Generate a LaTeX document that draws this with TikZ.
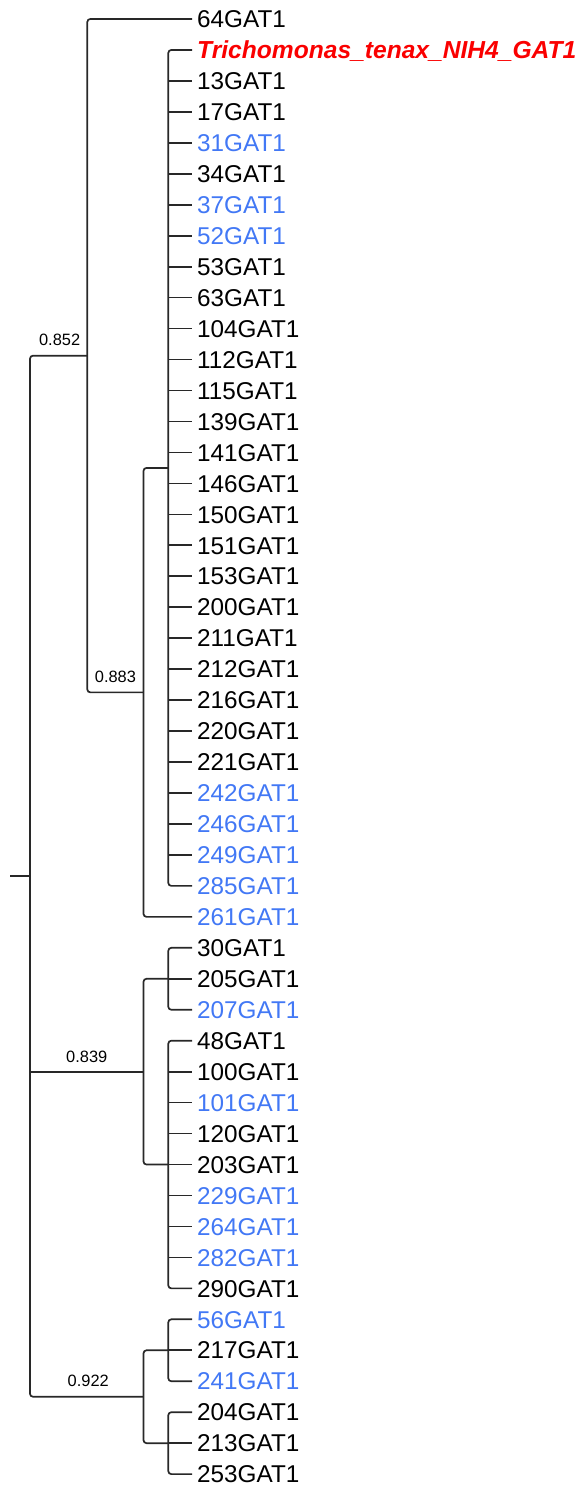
\documentclass[tikz,border=0pt]{standalone}
\usepackage{fontspec}
\setmainfont{Liberation Sans}
\usetikzlibrary{calc}
\definecolor{tipblue}{RGB}{66,120,245}
\definecolor{tipred}{RGB}{250,0,0}
\definecolor{edge}{RGB}{40,40,40}
\tikzset{
  branch/.style={draw=edge, line width=1.7pt, rounded corners=3pt},
  leaf/.style={anchor=west, inner xsep=5pt, inner ysep=0pt, text height=17.4pt, text depth=0pt,
    font=\fontsize{24.3}{28}\selectfont},
  hl/.style={leaf, text=tipblue},
  ref/.style={leaf, text=tipred, font=\fontsize{24.6}{28}\selectfont\bfseries\itshape},
  support/.style={anchor=base, inner sep=0pt, font=\fontsize{16.4}{19}\selectfont}
}
\newcommand{\ly}[1]{{19+(#1-1)*30.96}}
\begin{document}
\begin{tikzpicture}[x=1pt, y=-1pt]
\useasboundingbox (0,0) rectangle (580,1490);
% tips
\node[leaf] (l1)  at (192,\ly{1})  {64GAT1};
\node[ref]  (l2)  at (192,\ly{2})  {Trichomonas\_tenax\_NIH4\_GAT1};
\node[leaf] (l3)  at (192,\ly{3})  {13GAT1};
\node[leaf] (l4)  at (192,\ly{4})  {17GAT1};
\node[hl]   (l5)  at (192,\ly{5})  {31GAT1};
\node[leaf] (l6)  at (192,\ly{6})  {34GAT1};
\node[hl]   (l7)  at (192,\ly{7})  {37GAT1};
\node[hl]   (l8)  at (192,\ly{8})  {52GAT1};
\node[leaf] (l9)  at (192,\ly{9})  {53GAT1};
\node[leaf] (l10) at (192,\ly{10}) {63GAT1};
\node[leaf] (l11) at (192,\ly{11}) {104GAT1};
\node[leaf] (l12) at (192,\ly{12}) {112GAT1};
\node[leaf] (l13) at (192,\ly{13}) {115GAT1};
\node[leaf] (l14) at (192,\ly{14}) {139GAT1};
\node[leaf] (l15) at (192,\ly{15}) {141GAT1};
\node[leaf] (l16) at (192,\ly{16}) {146GAT1};
\node[leaf] (l17) at (192,\ly{17}) {150GAT1};
\node[leaf] (l18) at (192,\ly{18}) {151GAT1};
\node[leaf] (l19) at (192,\ly{19}) {153GAT1};
\node[leaf] (l20) at (192,\ly{20}) {200GAT1};
\node[leaf] (l21) at (192,\ly{21}) {211GAT1};
\node[leaf] (l22) at (192,\ly{22}) {212GAT1};
\node[leaf] (l23) at (192,\ly{23}) {216GAT1};
\node[leaf] (l24) at (192,\ly{24}) {220GAT1};
\node[leaf] (l25) at (192,\ly{25}) {221GAT1};
\node[hl]   (l26) at (192,\ly{26}) {242GAT1};
\node[hl]   (l27) at (192,\ly{27}) {246GAT1};
\node[hl]   (l28) at (192,\ly{28}) {249GAT1};
\node[hl]   (l29) at (192,\ly{29}) {285GAT1};
\node[hl]   (l30) at (192,\ly{30}) {261GAT1};
\node[leaf] (l31) at (192,\ly{31}) {30GAT1};
\node[leaf] (l32) at (192,\ly{32}) {205GAT1};
\node[hl]   (l33) at (192,\ly{33}) {207GAT1};
\node[leaf] (l34) at (192,\ly{34}) {48GAT1};
\node[leaf] (l35) at (192,\ly{35}) {100GAT1};
\node[hl]   (l36) at (192,\ly{36}) {101GAT1};
\node[leaf] (l37) at (192,\ly{37}) {120GAT1};
\node[leaf] (l38) at (192,\ly{38}) {203GAT1};
\node[hl]   (l39) at (192,\ly{39}) {229GAT1};
\node[hl]   (l40) at (192,\ly{40}) {264GAT1};
\node[hl]   (l41) at (192,\ly{41}) {282GAT1};
\node[leaf] (l42) at (192,\ly{42}) {290GAT1};
\node[hl]   (l43) at (192,\ly{43}) {56GAT1};
\node[leaf] (l44) at (192,\ly{44}) {217GAT1};
\node[hl]   (l45) at (192,\ly{45}) {241GAT1};
\node[leaf] (l46) at (192,\ly{46}) {204GAT1};
\node[leaf] (l47) at (192,\ly{47}) {213GAT1};
\node[leaf] (l48) at (192,\ly{48}) {253GAT1};
% internal nodes
\coordinate (C) at (168.3,{19+14.5*30.96});
\coordinate (B) at (143.5,{(19+14.5*30.96 + 19+29*30.96)/2});
\coordinate (A) at (87.3,{(19 + (19+14.5*30.96 + 19+29*30.96)/2)/2});
\coordinate (E) at (168.3,\ly{32});
\coordinate (F) at (168.3,\ly{38});
\coordinate (D) at (143.5,{(19+31*30.96 + 19+37*30.96)/2});
\coordinate (H) at (168.3,\ly{44});
\coordinate (I) at (168.3,\ly{47});
\coordinate (G) at (143.5,{(19+43*30.96 + 19+46*30.96)/2});
\coordinate (R) at (30,{((19 + (19+14.5*30.96 + 19+29*30.96)/2)/2 + (19+43*30.96 + 19+46*30.96)/2)/2});
\coordinate (stub) at (10,0 |- R);
% clade C: the large polytomy
\draw[branch] (l2.west) -| (C) |- (l29.west);
\foreach \i in {3,...,28} \draw[branch] (C |- l\i.west) -- (l\i.west);
% clade B
\draw[branch] (C) -| (B) |- (l30.west);
% clade A
\draw[branch] (l1.west) -| (A) |- (B);
% clade D
\draw[branch] (l31.west) -| (E) |- (l33.west);
\draw[branch] (E) -- (l32.west);
\draw[branch] (l34.west) -| (F) |- (l42.west);
\foreach \i in {35,...,41} \draw[branch] (F |- l\i.west) -- (l\i.west);
\draw[branch] (E) -| (D) |- (F);
% clade G
\draw[branch] (l43.west) -| (H) |- (l45.west);
\draw[branch] (H) -- (l44.west);
\draw[branch] (l46.west) -| (I) |- (l48.west);
\draw[branch] (I) -- (l47.west);
\draw[branch] (H) -| (G) |- (I);
% root
\draw[branch] (A) -| (R) |- (G);
\draw[branch] (R |- D) -- (D);
\draw[branch] (stub) -- (R);
% support values
\node[support] (sA) at ($(R |- A)!0.5!(A) + (1,-10)$) {0.852};
\node[support] (sB) at ($(A |- B)!0.5!(B) + (0,-10)$) {0.883};
\node[support] (sD) at ($(R |- D)!0.5!(D) + (0,-9)$) {0.839};
\node[support] (sG) at ($(R |- G)!0.5!(G) + (1.5,-10)$) {0.922};
\end{tikzpicture}
\end{document}
